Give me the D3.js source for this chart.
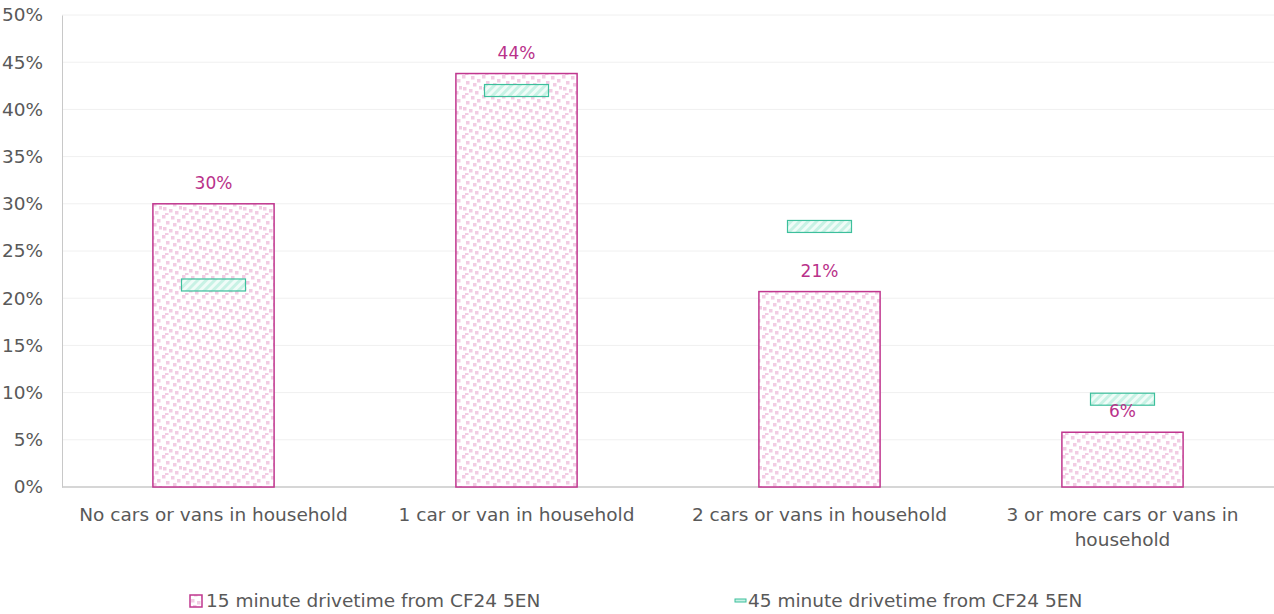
<!DOCTYPE html>
<html>
<head>
<meta charset="utf-8">
<script src="https://cdn.jsdelivr.net/npm/d3@7"></script>
<style>
  body { margin: 0; background: #fff; }
  svg text { font-family: "DejaVu Sans", Verdana, sans-serif; }
</style>
</head>
<body>
<div id="chart"></div>
<script>
const categories = [
  'No cars or vans in household',
  '1 car or van in household',
  '2 cars or vans in household',
  '3 or more cars or vans in household'
];
const drive15 = [30.0, 43.8, 20.7, 5.8];
const drive45 = [21.4, 42.0, 27.6, 9.3];
const seriesNames = ['15 minute drivetime from CF24 5EN', '45 minute drivetime from CF24 5EN'];
const yTicks = [0, 5, 10, 15, 20, 25, 30, 35, 40, 45, 50];

const W = 1274, H = 614;
const margin = { top: 15, right: 0, bottom: 127, left: 62 };
const width = W - margin.left - margin.right;
const height = H - margin.top - margin.bottom;
const fs = '18.5px';

const svg = d3.select('#chart').append('svg')
  .attr('width', W).attr('height', H);

const defs = svg.append('defs');

// pink confetti pattern for the 15 minute bars
const dots = defs.append('pattern')
  .attr('id', 'dots').attr('patternUnits', 'userSpaceOnUse')
  .attr('width', 20).attr('height', 20);
dots.append('rect').attr('width', 20).attr('height', 20).attr('fill', '#fff');
[[0, 0], [9, 1], [15, 4], [4, 6], [11, 8], [1, 12], [17, 11], [7, 14], [13, 16], [3, 18]].forEach(p => {
  dots.append('rect').attr('x', p[0]).attr('y', p[1])
    .attr('width', 3.5).attr('height', 3.5).attr('fill', '#f2cce3');
});

// light diagonal hatch for the 45 minute markers
const hatch = defs.append('pattern')
  .attr('id', 'hatch').attr('patternUnits', 'userSpaceOnUse')
  .attr('width', 6).attr('height', 6)
  .attr('patternTransform', 'rotate(45)');
hatch.append('rect').attr('width', 6).attr('height', 6).attr('fill', '#f0fcf8');
hatch.append('rect').attr('width', 3).attr('height', 6).attr('fill', '#c8f2e5');

const g = svg.append('g').attr('transform', `translate(${margin.left},${margin.top})`);

const x = d3.scaleBand().domain(categories).range([0, width]).paddingInner(0.6).paddingOuter(0.3);
const xc = d3.scaleBand().domain(categories).range([0, width]);
const y = d3.scaleLinear().domain([0, 50]).range([height, 0]);

// gridlines
g.append('g').selectAll('line').data(yTicks.slice(1)).enter().append('line')
  .attr('x1', 0).attr('x2', width)
  .attr('y1', d => y(d)).attr('y2', d => y(d))
  .attr('stroke', '#f0f0f0').attr('stroke-width', 1);

// axes
const yAxis = g.append('g').call(d3.axisLeft(y).tickValues(yTicks).tickSize(0).tickFormat(d => d + '%'));
yAxis.select('.domain').attr('stroke', '#c8c8c8');
yAxis.selectAll('text').attr('x', -19).style('font-size', fs).attr('fill', '#595959');

g.append('line').attr('x1', 0).attr('x2', width)
  .attr('y1', height).attr('y2', height)
  .attr('stroke', '#c8c8c8').attr('stroke-width', 1.5);

// bars
g.selectAll('.bar').data(drive15).enter().append('rect')
  .attr('class', 'bar')
  .attr('x', (d, i) => x(categories[i]))
  .attr('width', x.bandwidth())
  .attr('y', d => y(d))
  .attr('height', d => height - y(d))
  .attr('fill', 'url(#dots)')
  .attr('stroke', '#c0378f').attr('stroke-width', 1.5);

// markers
const mw = 64, mh = 12;
g.selectAll('.mark').data(drive45).enter().append('rect')
  .attr('class', 'mark')
  .attr('x', (d, i) => xc(categories[i]) + xc.bandwidth() / 2 - mw / 2)
  .attr('y', d => y(d) - mh / 2)
  .attr('width', mw).attr('height', mh)
  .attr('fill', 'url(#hatch)')
  .attr('stroke', '#3dbf9c').attr('stroke-width', 1.2);

// value labels
g.selectAll('.label').data(drive15).enter().append('text')
  .attr('class', 'label')
  .attr('x', (d, i) => xc(categories[i]) + xc.bandwidth() / 2)
  .attr('y', d => y(d) - 15)
  .attr('text-anchor', 'middle')
  .style('font-size', '17px')
  .attr('fill', '#b9318a')
  .text(d => Math.round(d) + '%');

// category labels, wrapped
const catG = g.append('g').attr('transform', `translate(0,${height})`);
categories.forEach((c, i) => {
  const lines = c.length > 30 ? ['3 or more cars or vans in', 'household'] : [c];
  const t = catG.append('text')
    .attr('x', xc(c) + xc.bandwidth() / 2)
    .attr('y', 34)
    .attr('text-anchor', 'middle')
    .style('font-size', fs)
    .attr('fill', '#595959');
  lines.forEach((l, j) => {
    t.append('tspan').attr('x', xc(c) + xc.bandwidth() / 2)
      .attr('dy', j === 0 ? 0 : 25).text(l);
  });
});

// legend
const legend = svg.append('g').attr('transform', `translate(0,${H - 7})`);
const l1 = legend.append('g').attr('transform', 'translate(190,0)');
l1.append('rect').attr('x', 0).attr('y', -12).attr('width', 12).attr('height', 12)
  .attr('fill', 'url(#dots)').attr('stroke', '#c0378f').attr('stroke-width', 1.5);
l1.append('text').attr('x', 16).attr('y', 0).style('font-size', fs)
  .attr('fill', '#595959').text(seriesNames[0]);

const l2 = legend.append('g').attr('transform', 'translate(735,0)');
l2.append('rect').attr('x', 0).attr('y', -8).attr('width', 11).attr('height', 3)
  .attr('fill', '#c8f2e5').attr('stroke', '#3dbf9c').attr('stroke-width', 1);
l2.append('text').attr('x', 13).attr('y', 0).style('font-size', fs)
  .attr('fill', '#595959').text(seriesNames[1]);
</script>
</body>
</html>
